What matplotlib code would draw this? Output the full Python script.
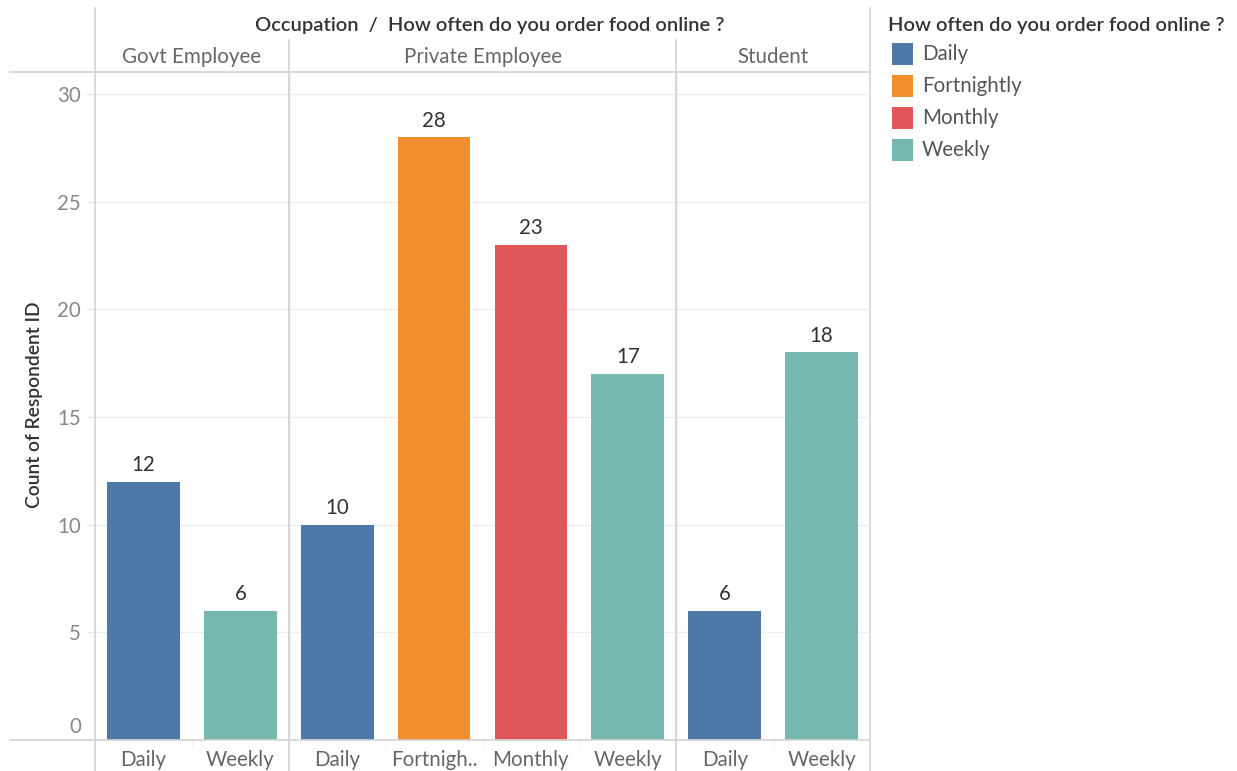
import matplotlib
matplotlib.use("Agg")
import matplotlib.pyplot as plt
from matplotlib.lines import Line2D
from matplotlib.patches import Rectangle

occupations = ["Govt Employee", "Private Employee", "Student"]
freq_by_occ = [["Daily", "Weekly"],
               ["Daily", "Fortnightly", "Monthly", "Weekly"],
               ["Daily", "Weekly"]]
counts_by_occ = [[12, 6], [10, 28, 23, 17], [6, 18]]
tick_labels_by_occ = [["Daily", "Weekly"],
                      ["Daily", "Fortnigh..", "Monthly", "Weekly"],
                      ["Daily", "Weekly"]]
legend_items = ["Daily", "Fortnightly", "Monthly", "Weekly"]
colors = {"Daily": "#4E79A7", "Fortnightly": "#F28E2B",
          "Monthly": "#E15759", "Weekly": "#76B7B2"}
yticks = [0, 5, 10, 15, 20, 25, 30]

plt.rcParams['font.family'] = ['Lato', 'DejaVu Sans']

FS = 14.8      # normal text
FSB = 14.5     # semibold text

W, H = 1237, 771
fig = plt.figure(figsize=(W / 100, H / 100), dpi=100)

def fx(px):
    return px / W

def fy(py):
    return 1 - py / H

ax_left, ax_right, ax_top, ax_bot = 95, 870, 72, 740
ax = fig.add_axes([fx(ax_left), fy(ax_bot), fx(ax_right) - fx(ax_left), fy(ax_top) - fy(ax_bot)])

xs, hs, cs, tls = [], [], [], []
pos = 0
group_bounds = []
for occ, fr, ct, tl in zip(occupations, freq_by_occ, counts_by_occ, tick_labels_by_occ):
    start = pos
    for f, c, t in zip(fr, ct, tl):
        xs.append(pos)
        hs.append(c)
        cs.append(colors[f])
        tls.append(t)
        pos += 1
    group_bounds.append((start - 0.5, pos - 0.5))

ax.bar(xs, hs, width=0.75, color=cs, zorder=3)
for x, h in zip(xs, hs):
    ax.text(x, h + 0.3, str(h), ha='center', va='bottom', fontsize=FS, color='#333333', zorder=4)

ax.set_xlim(-0.5, pos - 0.5)
ax.set_ylim(0, (ax_bot - ax_top) / ((ax_bot - 94) / 30))
ax.set_yticks(yticks)
# the zero label sits just above the axis line (drawn separately below)
ax.set_yticklabels(["" if v == 0 else str(v) for v in yticks], fontsize=FS, color='#888888')
ax.set_xticks(xs)
ax.set_xticklabels(tls, fontsize=FS, color='#666666')
ax.tick_params(axis='x', length=0, pad=7)
ax.tick_params(axis='y', length=6, color='#e6e6e6', pad=4)
ax.set_xticks([b - 0.5 for b in xs[1:]], minor=True)
ax.tick_params(axis='x', which='minor', length=4, color='#eeeeee')
ax.grid(axis='y', color='#eeeeee', linewidth=1, zorder=0)
for s in ax.spines.values():
    s.set_visible(False)

fig.text(fx(81), fy(727), str(yticks[0]), ha='right', va='center', fontsize=FS, color='#888888')

# group separators inside plot
for (a, b) in group_bounds[:-1]:
    ax.axvline(b, color='#d4d4d4', linewidth=1, zorder=2)

# figure-level lines
def vline(x, y0, y1):
    fig.add_artist(Line2D([fx(x), fx(x)], [fy(y0), fy(y1)], color='#d4d4d4', linewidth=1.2))

def hline(y, x0, x1):
    fig.add_artist(Line2D([fx(x0), fx(x1)], [fy(y), fy(y)], color='#d4d4d4', linewidth=1.2))

vline(95, 8, 771)
vline(870, 8, 771)
vline(289, 40, 771)
vline(676, 40, 771)
hline(72, 10, 870)
hline(740, 10, 870)

# headers
fig.text(fx(490), fy(25), "Occupation  /  How often do you order food online ?", ha='center', va='center',
         fontsize=FSB, color='#333333', fontweight='semibold')
for (a, b), occ in zip(group_bounds, occupations):
    cx = ax_left + ((a + b) / 2 + 0.5) * (ax_right - ax_left) / pos
    fig.text(fx(cx), fy(57), occ, ha='center', va='center', fontsize=FS, color='#666666')

fig.text(fx(35), fy(405), "Count of Respondent ID", rotation=90, ha='center', va='center',
         fontsize=FSB - 0.6, color='#333333', fontweight='semibold')

# legend
fig.text(fx(888), fy(25), "How often do you order food online ?", ha='left', va='center',
         fontsize=FSB, color='#333333', fontweight='semibold')
for i, item in enumerate(legend_items):
    yc = 54 + 32 * i
    fig.add_artist(Rectangle((fx(892), fy(yc + 11)), fx(913) - fx(892), fy(yc - 11) - fy(yc + 11),
                             transform=fig.transFigure, facecolor=colors[item], edgecolor='none'))
    fig.text(fx(922), fy(yc), item, ha='left', va='center', fontsize=FS, color='#555555')

fig.savefig("out.png", dpi=100)
